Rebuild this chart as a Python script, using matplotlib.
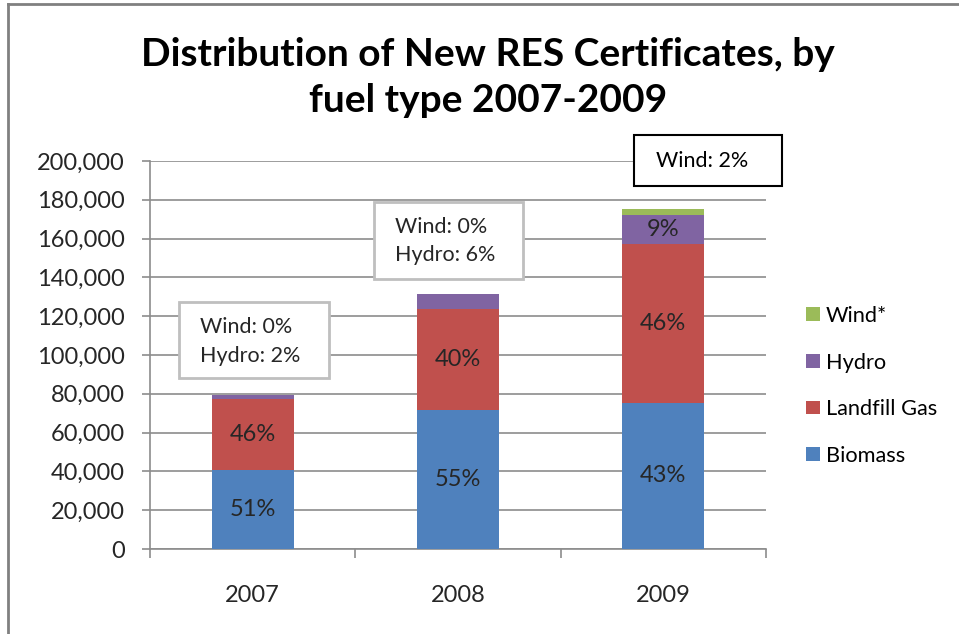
import matplotlib
matplotlib.use("Agg")
import matplotlib.pyplot as plt
from matplotlib.patches import Rectangle, Patch
from matplotlib.lines import Line2D

plt.rcParams["font.family"] = ["Lato", "DejaVu Sans"]

# Certificates issued per fuel type (counts)
years = ["2007", "2008", "2009"]
biomass = [40600, 71500, 75500]
landfill = [36900, 52000, 81500]
hydro = [1900, 7800, 15300]
wind = [100, 400, 2800]

# Percent labels shown inside the bars
biomass_pct = ["51%", "55%", "43%"]
landfill_pct = ["46%", "40%", "46%"]
hydro_pct = [None, None, "9%"]

y_ticks = list(range(0, 200001, 20000))

colors = {
    "Biomass": "#4F81BD",
    "Landfill Gas": "#C0504D",
    "Hydro": "#8064A2",
    "Wind*": "#9BBB59",
}
text_color = "#262626"
grid_color = "#8c8c8c"

W, H = 959, 634
fig = plt.figure(figsize=(W / 100, H / 100), dpi=100)
ax = fig.add_axes([150 / W, (H - 549) / H, 616 / W, 388 / H])

x = list(range(len(years)))
bw = 0.4
ax.bar(x, biomass, bw, color=colors["Biomass"], zorder=3)
bottom2 = biomass
ax.bar(x, landfill, bw, bottom=bottom2, color=colors["Landfill Gas"], zorder=3)
bottom3 = [a + b for a, b in zip(biomass, landfill)]
ax.bar(x, hydro, bw, bottom=bottom3, color=colors["Hydro"], zorder=3)
bottom4 = [a + b for a, b in zip(bottom3, hydro)]
ax.bar(x, wind, bw, bottom=bottom4, color=colors["Wind*"], zorder=3)

lab_fs = 17
for i in x:
    ax.text(i, biomass[i] / 2, biomass_pct[i], ha="center", va="center",
            fontsize=lab_fs, color=text_color, zorder=4)
    ax.text(i, bottom2[i] + landfill[i] / 2, landfill_pct[i], ha="center",
            va="center", fontsize=lab_fs, color=text_color, zorder=4)
    if hydro_pct[i]:
        ax.text(i, bottom3[i] + hydro[i] / 2, hydro_pct[i], ha="center",
                va="center", fontsize=lab_fs, color=text_color, zorder=4)

ax.set_xlim(-0.5, len(years) - 0.5)
ax.set_ylim(0, 200000)
ax.set_yticks(y_ticks)
ax.set_yticklabels([f"{v:,}" for v in y_ticks])
ax.set_xticks(x)
ax.set_xticklabels(years)
ax.set_xticks([i - 0.5 for i in range(len(years) + 1)], minor=True)

ax.tick_params(axis="x", which="major", length=0, pad=26,
               labelsize=17, labelcolor=text_color)
ax.tick_params(axis="x", which="minor", length=6.5, width=1.2,
               color=grid_color, direction="out")
ax.tick_params(axis="y", which="major", length=6, width=1.2,
               color=grid_color, direction="out", pad=12,
               labelsize=17, labelcolor=text_color)

ax.yaxis.grid(True, color=grid_color, linewidth=1.2, zorder=0)
ax.set_axisbelow(True)
for s in ("top", "right"):
    ax.spines[s].set_visible(False)
for s in ("left", "bottom"):
    ax.spines[s].set_color(grid_color)
    ax.spines[s].set_linewidth(1.2)

# Title
fig.text(488 / W, 1 - 55 / H, "Distribution of New RES Certificates, by",
         ha="center", va="center", fontsize=28, fontweight="bold", color="black")
fig.text(488 / W, 1 - 101 / H, "fuel type 2007-2009",
         ha="center", va="center", fontsize=28, fontweight="bold", color="black")

# Legend (top to bottom: Wind*, Hydro, Landfill Gas, Biomass)
names = ["Wind*", "Hydro", "Landfill Gas", "Biomass"]
handles = [Patch(facecolor=colors[k]) for k in names]
leg = fig.legend(handles, names,
                 loc="upper left", bbox_to_anchor=(806 / W, 1 - 306 / H),
                 frameon=False, fontsize=15.7, handlelength=0.65, handleheight=0.6,
                 handletextpad=0.25, labelspacing=1.22, borderaxespad=0,
                 borderpad=0)
for t in leg.get_texts():
    t.set_color("black")


def px_box(x0, y0, x1, y1, edge, lw):
    fig.add_artist(Rectangle((x0 / W, 1 - y1 / H), (x1 - x0) / W, (y1 - y0) / H,
                             transform=fig.transFigure, facecolor="white",
                             edgecolor=edge, linewidth=lw, zorder=5))


# Callout boxes
box_fs = 15.5
px_box(179, 302, 329, 378, "#bfbfbf", 2)
fig.text(200 / W, 1 - 327 / H, "Wind: 0%", ha="left", va="center",
         fontsize=box_fs, color=text_color, zorder=6)
fig.text(200 / W, 1 - 356 / H, "Hydro: 2%", ha="left", va="center",
         fontsize=box_fs, color=text_color, zorder=6)

px_box(374, 202, 523, 279, "#bfbfbf", 2)
fig.text(395 / W, 1 - 227 / H, "Wind: 0%", ha="left", va="center",
         fontsize=box_fs, color=text_color, zorder=6)
fig.text(395 / W, 1 - 255 / H, "Hydro: 6%", ha="left", va="center",
         fontsize=box_fs, color=text_color, zorder=6)

px_box(634, 135, 782, 186, "black", 1.5)
fig.text(702 / W, 1 - 161 / H, "Wind: 2%", ha="center", va="center",
         fontsize=box_fs, color="black", zorder=6)

# Outer chart frame (left and top edges)
fig.add_artist(Line2D([8 / W, 8 / W], [0, 1 - 3.5 / H], transform=fig.transFigure,
                      color="#808080", linewidth=2))
fig.add_artist(Line2D([8 / W, 1], [1 - 3.5 / H, 1 - 3.5 / H], transform=fig.transFigure,
                      color="#808080", linewidth=2))

fig.savefig("out.png", dpi=100, facecolor="white")
